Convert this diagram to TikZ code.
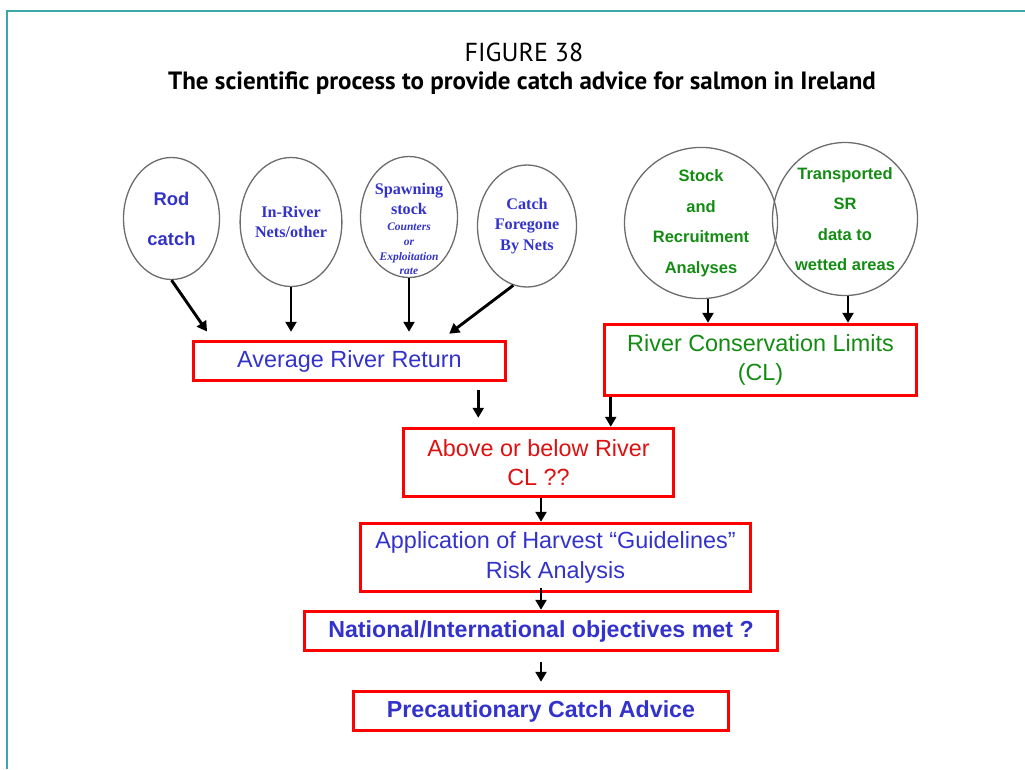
\documentclass[tikz,border=0pt]{standalone}
\usepackage{fontspec}
\newfontfamily\arialfont{Liberation Sans}
\newfontfamily\timesfont{Liberation Serif}
\newfontfamily\titlefont{PT Sans}
\usetikzlibrary{arrows.meta,calc,shapes.geometric}
\definecolor{frameteal}{RGB}{58,168,168}
\definecolor{txtblue}{RGB}{51,51,204}
\definecolor{txtgreen}{RGB}{20,140,20}
\definecolor{txtred}{RGB}{221,17,17}

\begin{document}
\begin{tikzpicture}[x=1pt,y=-1pt,
  oval/.style={draw=gray!85!black,line width=1.3pt,ellipse,inner sep=0pt,align=center},
  redbox/.style={draw=red,line width=3.5pt,fill=white,inner sep=0pt,align=center,font=\arialfont\fontsize{23.4}{29.5}\selectfont},
  arr/.style={-{Triangle[length=10pt,width=11pt]},line width=2.9pt}]
\useasboundingbox (0,0) rectangle (1025,769);
\draw[frameteal,line width=2pt] (1025,11) -- (7,11) -- (7,769);
% title
\node[font=\titlefont\fontsize{26}{26}\selectfont] (figno) at (524,52) {FIGURE 38};
\node[font=\titlefont\bfseries\fontsize{25}{25}\selectfont] (caption) at (522,83) {The scientific process to provide catch advice for salmon in Ireland};
% data sources
\node[oval,minimum width=96pt,minimum height=122pt,text=txtblue,font=\arialfont\bfseries\fontsize{18.4}{40}\selectfont] (rod) at (171.5,218.5) {Rod\\catch};
\node[oval,minimum width=97pt,minimum height=129pt,text=txtblue,font=\timesfont\bfseries\fontsize{16.2}{20}\selectfont] (inriver) at (291,222) {In-River\\Nets/other};
\node[oval,minimum width=97pt,minimum height=121pt] (spawn) at (409,217) {};
\node[text=txtblue,align=center,font=\timesfont\bfseries\fontsize{16.2}{20}\selectfont] (spawntop) at (409,199) {Spawning\\stock};
\node[text=txtblue,align=center,font=\timesfont\bfseries\itshape\fontsize{11.5}{14.7}\selectfont] (spawnnote) at (409,249) {Counters\\or\\Exploitation\\rate};
\node[oval,minimum width=99pt,minimum height=122pt,text=txtblue,font=\timesfont\bfseries\fontsize{16.2}{20.5}\selectfont] (foregone) at (527,226) {Catch\\Foregone\\By Nets};
\node[oval,minimum width=153pt,minimum height=145pt,text=txtgreen,font=\arialfont\bfseries\fontsize{16.5}{30.5}\selectfont] (stock) at (701,223) {Stock\\and\\Recruitment\\Analyses};
\node[oval,minimum width=145pt,minimum height=153pt,text=txtgreen,font=\arialfont\bfseries\fontsize{16.5}{30.5}\selectfont] (wetted) at (845,219) {Transported\\SR\\data to\\wetted areas};
% process boxes
\node[redbox,minimum width=312pt,minimum height=39pt,text=txtblue] (avg) at (349.5,361) {Average River Return};
\node[redbox,minimum width=312pt,minimum height=71pt,text=txtgreen] (cl) at (760.5,360) {River Conservation Limits\\(CL)};
\node[redbox,minimum width=270pt,minimum height=68pt,text=txtred] (above) at (538.5,462.5) {Above or below River\\CL ??};
\node[redbox,minimum width=390pt,minimum height=68pt,text=txtblue] (harvest) at (555.5,557.5) {Application of Harvest “Guidelines”\\Risk Analysis};
\node[redbox,minimum width=473pt,minimum height=39pt,text=txtblue,font=\arialfont\bfseries\fontsize{23.2}{29.5}\selectfont] (objectives) at (541,631) {National/International objectives met ?};
\node[redbox,minimum width=375pt,minimum height=39pt,text=txtblue,font=\arialfont\bfseries\fontsize{23.2}{29.5}\selectfont] (advice) at (541,711) {Precautionary Catch Advice};
% arrows
\draw[arr,shorten >=10pt] (rod.south) -- ($(avg.north west)+(21,0)$);
\draw[arr,shorten >=8pt] (inriver.south) -- (inriver.south |- avg.north);
\draw[arr,shorten >=8pt] (spawn.south) -- (spawn.south |- avg.north);
\draw[arr,shorten >=10pt] (foregone.257) -- ($(avg.north east)+(-66,0)$);
\draw[arr] ([xshift=7pt]stock.south) -- ([xshift=7pt]stock.south |- cl.north);
\draw[arr] ([xshift=3pt]wetted.south) -- ([xshift=3pt]wetted.south |- cl.north);
\draw[arr,shorten <=8pt,shorten >=9pt] ([xshift=-29pt]avg.south east) -- ([xshift=-29pt]avg.south east |- above.north);
\draw[arr] ([xshift=8pt]cl.south west) -- ([xshift=8pt]cl.south west |- above.north);
\draw[arr] (above.south -| objectives.north) -- (harvest.north -| objectives.north);
\draw[arr,shorten <=-5pt] (harvest.south -| objectives.north) -- (objectives.north);
\draw[arr,shorten <=10pt,shorten >=8pt] (objectives.south) -- (advice.north);
\end{tikzpicture}
\end{document}
